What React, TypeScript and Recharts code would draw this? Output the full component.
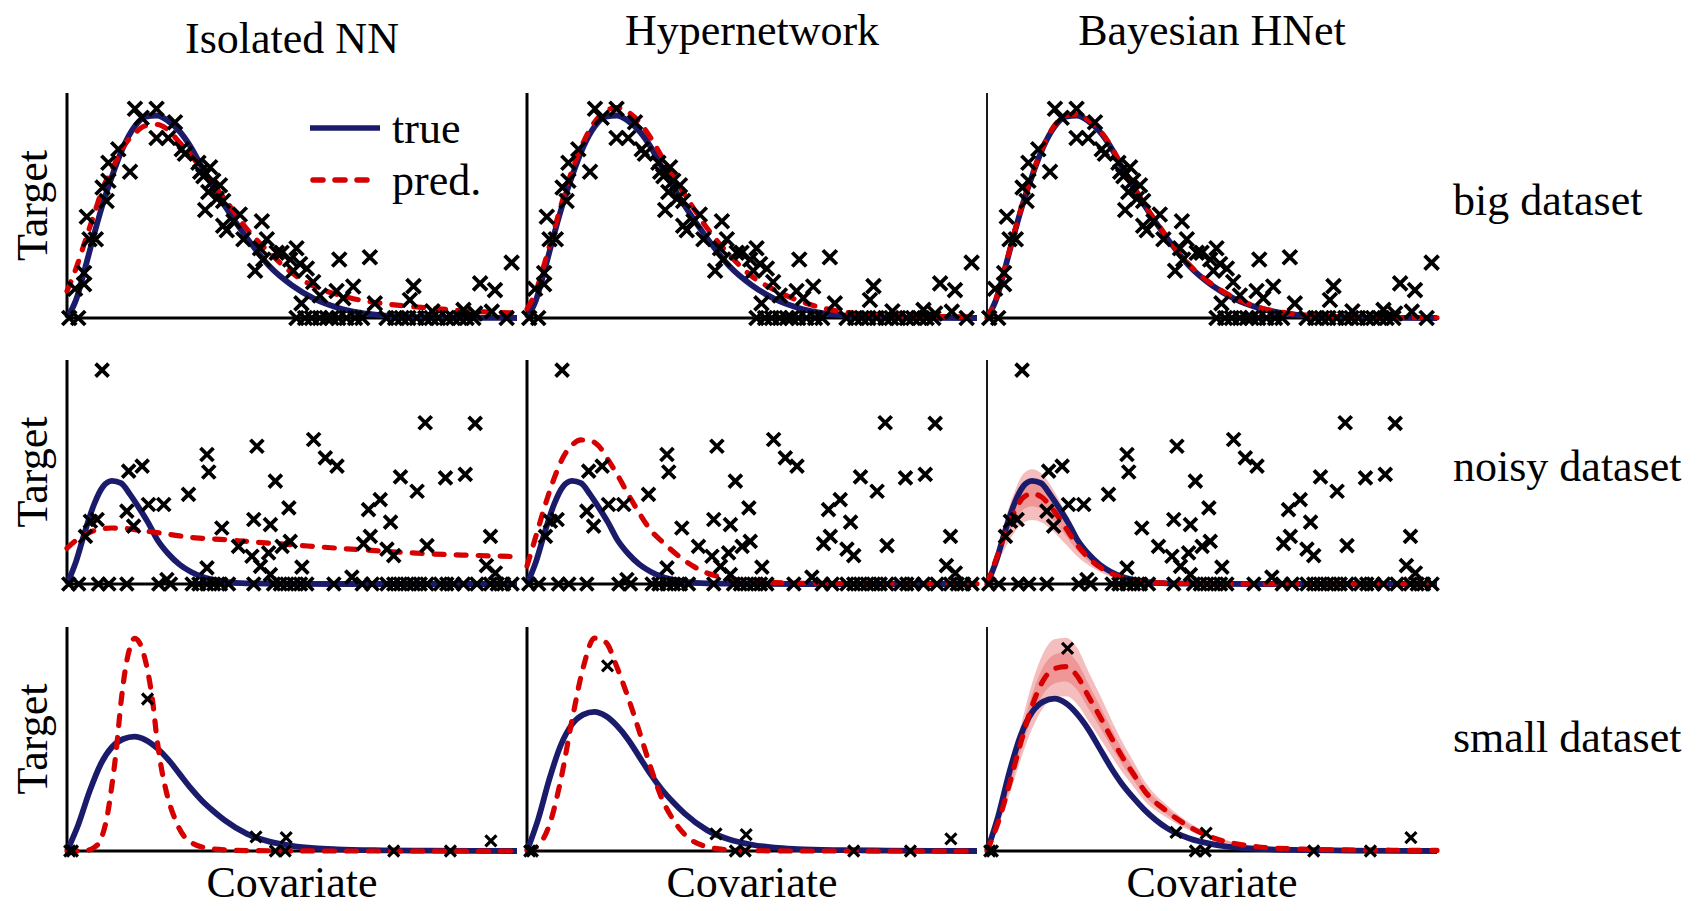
import React from 'react';
import { ComposedChart, Line, Scatter, Area, XAxis, YAxis, Legend, ReferenceLine } from 'recharts';

const NAVY = '#1b1b6b';
const RED = '#d60000';
const FONT = '"Liberation Serif", serif';
const FS = 44;

const columnTitles = ['Isolated NN', 'Hypernetwork', 'Bayesian HNet'];
const rowLabels = ['big dataset', 'noisy dataset', 'small dataset'];
const yLabel = 'Target';
const xLabel = 'Covariate';
const legendLabels = ['true', 'pred.'];

// ---------- row 1: big dataset ----------
const bigX = [0, 0.2, 0.4, 0.6, 0.8, 1.0, 1.25, 1.5, 1.75, 2.0, 2.25, 2.5, 2.75, 3.0, 3.5, 4.0, 4.5, 5.0, 5.5, 6.0, 6.5, 7.0, 8.0, 9.0, 10.0];
const bigTrue = [0, 0.08, 0.22, 0.37, 0.51, 0.63, 0.76, 0.85, 0.895, 0.9, 0.875, 0.83, 0.76, 0.67, 0.5, 0.355, 0.23, 0.145, 0.085, 0.047, 0.024, 0.012, 0.003, 0.001, 0];
const bigPredIso = [0.12, 0.22, 0.34, 0.46, 0.58, 0.66, 0.76, 0.82, 0.855, 0.86, 0.835, 0.78, 0.725, 0.66, 0.53, 0.395, 0.29, 0.2, 0.14, 0.105, 0.08, 0.065, 0.045, 0.03, 0.022];
const bigPredHyper = [0.04, 0.12, 0.25, 0.39, 0.53, 0.655, 0.78, 0.87, 0.92, 0.935, 0.915, 0.87, 0.8, 0.715, 0.55, 0.4, 0.28, 0.185, 0.125, 0.08, 0.048, 0.028, 0.012, 0.007, 0.005];
const bigPredBayes = [0, 0.085, 0.225, 0.375, 0.515, 0.635, 0.765, 0.855, 0.9, 0.905, 0.88, 0.835, 0.765, 0.675, 0.505, 0.36, 0.235, 0.15, 0.09, 0.05, 0.027, 0.014, 0.004, 0.002, 0.001];

const bigPtsX = [0.18, 0.38, 0.38, 0.44, 0.5, 0.64, 0.88, 0.79, 0.92, 0.92, 1.14, 1.4, 1.51, 1.66, 1.99, 1.99, 2.25, 2.4, 2.55, 2.62, 2.92, 2.96, 3.18, 3.03, 3.25, 3.4, 3.14, 3.33, 3.47, 3.07, 3.47, 3.55, 3.84, 3.7, 3.92, 4.33, 4.18, 4.29, 4.44, 4.36, 4.66, 4.77, 4.96, 5.03, 5.1, 5.18, 5.33, 5.47, 5.62, 5.21, 5.99, 6.05, 6.14, 6.36, 6.73, 6.84, 7.62, 7.7, 8.12, 8.81, 9.07, 9.18, 9.44, 9.51, 9.88,
  0.05, 0.25, 5.1, 5.29, 5.44, 5.62, 5.77, 5.88, 6.03, 6.21, 6.4, 6.56, 7.1, 7.29, 7.44, 7.59, 7.77, 7.96, 8.1, 8.25, 8.44, 8.58, 8.73, 8.88, 9.03, 9.77];
const bigPtsY = [0.13, 0.15, 0.2, 0.45, 0.35, 0.35, 0.52, 0.58, 0.61, 0.69, 0.75, 0.65, 0.93, 0.89, 0.8, 0.93, 0.8, 0.87, 0.75, 0.73, 0.69, 0.65, 0.67, 0.63, 0.61, 0.59, 0.56, 0.53, 0.52, 0.48, 0.41, 0.39, 0.46, 0.43, 0.35, 0.43, 0.21, 0.31, 0.35, 0.26, 0.29, 0.29, 0.26, 0.21, 0.31, 0.24, 0.22, 0.16, 0.1, 0.065, 0.12, 0.26, 0.088, 0.14, 0.27, 0.065, 0.08, 0.142, 0.03, 0.036, 0.02, 0.154, 0.028, 0.124, 0.246,
  0, 0, 0, 0, 0, 0, 0, 0, 0, 0, 0, 0, 0, 0, 0, 0, 0, 0, 0, 0, 0, 0, 0, 0, 0, 0];

// ---------- row 2: noisy dataset ----------
const noisyX = [0, 0.2, 0.4, 0.6, 0.8, 1.0, 1.2, 1.4, 1.6, 1.8, 2.0, 2.25, 2.5, 2.75, 3.0, 3.5, 4.0, 5.0, 6.0, 7.0, 8.0, 9.0, 10.0];
const noisyTrue = [0, 0.1, 0.235, 0.355, 0.435, 0.46, 0.45, 0.4, 0.34, 0.275, 0.2, 0.135, 0.087, 0.055, 0.033, 0.011, 0.003, 0.001, 0, 0, 0, 0, 0];
const noisyPredIso = [0.16, 0.195, 0.22, 0.238, 0.247, 0.25, 0.249, 0.246, 0.24, 0.235, 0.23, 0.222, 0.215, 0.208, 0.204, 0.198, 0.19, 0.175, 0.16, 0.147, 0.135, 0.128, 0.122];
const noisyPredHyper = [0.08, 0.215, 0.35, 0.47, 0.565, 0.62, 0.643, 0.64, 0.615, 0.555, 0.49, 0.4, 0.315, 0.24, 0.19, 0.105, 0.049, 0.012, 0.004, 0.002, 0.001, 0.001, 0.001];
const noisyPredBayes = [0, 0.11, 0.225, 0.32, 0.385, 0.403, 0.39, 0.35, 0.295, 0.235, 0.175, 0.118, 0.076, 0.048, 0.029, 0.01, 0.004, 0.001, 0, 0, 0, 0, 0];
const noisyOuterHi = [0, 0.14, 0.285, 0.405, 0.49, 0.512, 0.495, 0.445, 0.375, 0.3, 0.222, 0.152, 0.098, 0.06, 0.037, 0.013, 0.005, 0.001, 0, 0, 0, 0, 0];
const noisyOuterLo = [0, 0.078, 0.16, 0.227, 0.273, 0.286, 0.277, 0.249, 0.209, 0.167, 0.124, 0.085, 0.055, 0.033, 0.021, 0.007, 0.003, 0.001, 0, 0, 0, 0, 0];
const noisyInnerHi = [0, 0.125, 0.257, 0.365, 0.44, 0.46, 0.445, 0.4, 0.336, 0.268, 0.2, 0.137, 0.088, 0.054, 0.033, 0.011, 0.0045, 0.001, 0, 0, 0, 0, 0];
const noisyInnerLo = [0, 0.095, 0.194, 0.275, 0.331, 0.347, 0.335, 0.301, 0.254, 0.202, 0.15, 0.103, 0.066, 0.04, 0.025, 0.009, 0.0034, 0.001, 0, 0, 0, 0, 0];

const noisyPtsX = [0.78, 1.37, 1.67, 1.33, 1.48, 1.81, 2.15, 0.67, 0.52, 0.41, 2.7, 3.11, 3.15, 3.44, 3.81, 3.11, 4.15, 4.22, 4.52, 4.63, 4.11, 4.3, 4.48, 4.78, 4.96, 4.93, 4.52, 5.22, 5.48, 5.74, 6.0, 6.33, 6.59, 6.74, 6.7, 6.96, 7.19, 7.11, 7.26, 7.41, 7.78, 8.0, 7.96, 8.41, 8.85, 9.07, 9.41, 9.32, 9.52, 2.22,
  0.04, 0.26, 0.7, 0.93, 1.33, 2.04, 2.3, 2.78, 2.93, 3.11, 3.26, 3.41, 3.59, 4.15, 4.59, 4.74, 4.89, 5.04, 5.19, 5.33, 5.93, 6.56, 6.78, 7.11, 7.26, 7.41, 7.56, 7.7, 7.85, 8.0, 8.3, 8.44, 8.59, 8.81, 9.11, 9.41, 9.56, 9.7, 9.89];
const noisyPtsY = [0.955, 0.504, 0.526, 0.325, 0.258, 0.355, 0.355, 0.288, 0.28, 0.213, 0.4, 0.578, 0.5, 0.25, 0.168, 0.072, 0.288, 0.615, 0.265, 0.459, 0.124, 0.079, 0.139, 0.168, 0.19, 0.34, 0.042, 0.075, 0.645, 0.563, 0.526, 0.031, 0.18, 0.213, 0.332, 0.377, 0.276, 0.156, 0.127, 0.478, 0.414, 0.171, 0.72, 0.474, 0.489, 0.717, 0.213, 0.082, 0.049, 0.02,
  0, 0, 0, 0, 0, 0, 0, 0, 0, 0, 0, 0, 0, 0, 0, 0, 0, 0, 0, 0, 0, 0, 0, 0, 0, 0, 0, 0, 0, 0, 0, 0, 0, 0, 0, 0, 0, 0, 0];

// ---------- row 3: small dataset ----------
const smallX = [0, 0.25, 0.5, 0.75, 1.0, 1.25, 1.5, 1.75, 2.0, 2.25, 2.5, 2.75, 3.0, 3.25, 3.5, 4.0, 4.5, 5.0, 5.5, 6.0, 7.0, 8.0, 9.0, 10.0];
const smallTrue = [0, 0.23, 0.52, 0.76, 0.91, 0.98, 1.0, 0.97, 0.9, 0.8, 0.675, 0.55, 0.44, 0.35, 0.27, 0.15, 0.082, 0.045, 0.024, 0.014, 0.006, 0.003, 0.001, 0];
const smallIsoX = [0, 0.4, 0.6, 0.75, 0.9, 1.0, 1.1, 1.2, 1.3, 1.4, 1.5, 1.6, 1.7, 1.8, 1.9, 2.0, 2.1, 2.2, 2.4, 2.6, 2.8, 3.0, 3.5, 4.0, 5.0, 6.0, 8.0, 10.0];
const smallPredIso = [0, 0.003, 0.03, 0.1, 0.32, 0.58, 0.9, 1.3, 1.6, 1.78, 1.86, 1.83, 1.73, 1.56, 1.32, 0.98, 0.72, 0.53, 0.28, 0.13, 0.065, 0.035, 0.01, 0.004, 0.001, 0, 0, 0];
const smallPredHyper = [0, 0.04, 0.19, 0.51, 0.94, 1.32, 1.53, 1.5, 1.32, 1.1, 0.855, 0.6, 0.375, 0.225, 0.12, 0.03, 0.008, 0.003, 0.001, 0, 0, 0, 0, 0];
const smallPredBayes = [0, 0.19, 0.44, 0.71, 0.95, 1.12, 1.197, 1.21, 1.15, 1.017, 0.887, 0.75, 0.62, 0.507, 0.395, 0.26, 0.159, 0.089, 0.049, 0.028, 0.012, 0.007, 0.005, 0.004];
const smallOuterHi = [0, 0.22, 0.51, 0.82, 1.1, 1.3, 1.39, 1.4, 1.335, 1.18, 1.03, 0.87, 0.72, 0.59, 0.46, 0.3, 0.185, 0.103, 0.057, 0.032, 0.014, 0.008, 0.006, 0.005];
const smallOuterLo = [0, 0.16, 0.37, 0.6, 0.8, 0.94, 1.005, 1.015, 0.965, 0.855, 0.745, 0.63, 0.52, 0.425, 0.33, 0.218, 0.134, 0.075, 0.041, 0.024, 0.01, 0.006, 0.004, 0.003];
const smallInnerHi = [0, 0.205, 0.475, 0.765, 1.025, 1.21, 1.29, 1.305, 1.24, 1.1, 0.958, 0.81, 0.67, 0.548, 0.427, 0.281, 0.172, 0.096, 0.053, 0.03, 0.013, 0.0076, 0.0054, 0.0043];
const smallInnerLo = [0, 0.175, 0.405, 0.655, 0.875, 1.03, 1.1, 1.113, 1.058, 0.936, 0.816, 0.69, 0.57, 0.466, 0.363, 0.239, 0.146, 0.082, 0.045, 0.026, 0.011, 0.0064, 0.0046, 0.0037];
const smallPtsX = [0.06, 0.12, 1.79, 4.2, 4.63, 4.85, 4.87, 7.26, 8.52, 9.42];
const smallPtsY = [0, 0, 1.33, 0.123, 0, 0, 0.118, 0, 0, 0.088];

// y-axis upper limits per panel (row, column)
const yMaxes = [[1, 1, 1], [1, 1, 1], [1.96, 1.61, 1.47]];

// ---------- layout ----------
const COL_LEFT = [67, 527, 987];
const ROW_TOP = [93, 360, 627];
const PW = 450;
const PH = [225, 224, 224];
const M = 16;

const series = (xs: number[], ys: number[]) => xs.map((x, i) => ({ x, y: ys[i] }));
const band = (xs: number[], lo: number[], hi: number[]) => xs.map((x, i) => ({ x, r: [lo[i], hi[i]] }));

type PanelSpec = {
  trueData: { x: number; y: number }[];
  predData: { x: number; y: number }[];
  points: { x: number; y: number }[];
  outer?: { x: number; r: number[] }[];
  inner?: { x: number; r: number[] }[];
  mark: number;
};

const bigPoints = series(bigPtsX, bigPtsY);
const noisyPoints = series(noisyPtsX, noisyPtsY);
const smallPoints = series(smallPtsX, smallPtsY);

const panels: PanelSpec[][] = [
  [
    { trueData: series(bigX, bigTrue), predData: series(bigX, bigPredIso), points: bigPoints, mark: 7 },
    { trueData: series(bigX, bigTrue), predData: series(bigX, bigPredHyper), points: bigPoints, mark: 7 },
    { trueData: series(bigX, bigTrue), predData: series(bigX, bigPredBayes), points: bigPoints, mark: 7 },
  ],
  [
    { trueData: series(noisyX, noisyTrue), predData: series(noisyX, noisyPredIso), points: noisyPoints, mark: 6.5 },
    { trueData: series(noisyX, noisyTrue), predData: series(noisyX, noisyPredHyper), points: noisyPoints, mark: 6.5 },
    {
      trueData: series(noisyX, noisyTrue), predData: series(noisyX, noisyPredBayes), points: noisyPoints, mark: 6.5,
      outer: band(noisyX, noisyOuterLo, noisyOuterHi), inner: band(noisyX, noisyInnerLo, noisyInnerHi),
    },
  ],
  [
    { trueData: series(smallX, smallTrue), predData: series(smallIsoX, smallPredIso), points: smallPoints, mark: 5.5 },
    { trueData: series(smallX, smallTrue), predData: series(smallX, smallPredHyper), points: smallPoints, mark: 5.5 },
    {
      trueData: series(smallX, smallTrue), predData: series(smallX, smallPredBayes), points: smallPoints, mark: 5.5,
      outer: band(smallX, smallOuterLo, smallOuterHi), inner: band(smallX, smallInnerLo, smallInnerHi),
    },
  ],
];

const makeCross = (s: number, w: number) => (p: any) => {
  const { cx, cy } = p;
  if (cx == null || cy == null) return <g />;
  return (
    <path
      d={`M${cx - s},${cy - s}L${cx + s},${cy + s}M${cx - s},${cy + s}L${cx + s},${cy - s}`}
      stroke="#000"
      strokeWidth={w}
      fill="none"
    />
  );
};

const LegendBox = () => (
  <svg width={190} height={110} style={{ overflow: 'visible' }}>
    <line x1={2} y1={20} x2={72} y2={20} stroke={NAVY} strokeWidth={5.5} />
    <text x={84} y={20} dominantBaseline="central" fontFamily={FONT} fontSize={FS} fill="#000">{legendLabels[0]}</text>
    <line x1={5} y1={72} x2={69} y2={72} stroke={RED} strokeWidth={5.5} strokeDasharray="10 12" strokeLinecap="round" />
    <text x={84} y={72} dominantBaseline="central" fontFamily={FONT} fontSize={FS} fill="#000">{legendLabels[1]}</text>
  </svg>
);

function Panel({ r, c }: { r: number; c: number }) {
  const spec = panels[r][c];
  const h = PH[r];
  const left = COL_LEFT[c];
  const top = ROW_TOP[r];
  const yAxisW = c === 2 ? 1.8 : 3;
  return (
    <div style={{ position: 'absolute', left: left - M, top: top - M }}>
      <ComposedChart width={PW + 2 * M} height={h + 2 * M} margin={{ top: M, right: M, bottom: M, left: M }}>
        <XAxis type="number" dataKey="x" domain={[0, 10]} hide />
        <YAxis type="number" domain={[0, yMaxes[r][c]]} hide />
        {spec.outer && (
          <Area data={spec.outer} dataKey="r" type="monotone" stroke="none" fill="#e23a3a" fillOpacity={0.33}
            isAnimationActive={false} dot={false} activeDot={false} />
        )}
        {spec.inner && (
          <Area data={spec.inner} dataKey="r" type="monotone" stroke="none" fill="#e23a3a" fillOpacity={0.3}
            isAnimationActive={false} dot={false} activeDot={false} />
        )}
        <ReferenceLine x={0} stroke="#000" strokeWidth={yAxisW} />
        <ReferenceLine y={0} stroke="#000" strokeWidth={3} />
        <Line data={spec.trueData} dataKey="y" type="monotone" stroke={NAVY} strokeWidth={5.8} dot={false}
          activeDot={false} isAnimationActive={false} strokeLinejoin="round" />
        <Line data={spec.predData} dataKey="y" type="monotone" stroke={RED} strokeWidth={5.2} dot={false}
          activeDot={false} isAnimationActive={false} strokeDasharray="10 12" strokeLinecap="round" />
        <Scatter data={spec.points} dataKey="y" shape={makeCross(spec.mark, r === 2 ? 3.2 : 3.8)} isAnimationActive={false} />
        {r === 0 && c === 0 && (
          <Legend layout="horizontal" verticalAlign="middle" align="center" content={() => <LegendBox />}
            wrapperStyle={{ left: 257, top: 31, width: 190, height: 110 }} />
        )}
      </ComposedChart>
    </div>
  );
}

const titleBaselines = [53, 45, 45];
const rowBaselines = [215, 481, 752];
const rowCenters = [205.5, 472, 739];

export default function App() {
  return (
    <div style={{ position: 'fixed', left: 0, top: 0, width: 1703, height: 911, background: '#fff', overflow: 'hidden' }}>
      {[0, 1, 2].map((r) => [0, 1, 2].map((c) => <Panel key={`${r}-${c}`} r={r} c={c} />))}
      <svg width={1703} height={911} style={{ position: 'absolute', left: 0, top: 0, pointerEvents: 'none' }}>
        {columnTitles.map((t, c) => (
          <text key={t} x={COL_LEFT[c] + PW / 2} y={titleBaselines[c]} textAnchor="middle" fontFamily={FONT} fontSize={FS} fill="#000">{t}</text>
        ))}
        {rowLabels.map((t, r) => (
          <text key={t} x={1453} y={rowBaselines[r]} fontFamily={FONT} fontSize={FS} fill="#000">{t}</text>
        ))}
        {rowCenters.map((cy, r) => (
          <text key={`yl${r}`} x={0} y={0} transform={`translate(47, ${cy}) rotate(-90)`} textAnchor="middle"
            fontFamily={FONT} fontSize={FS} fill="#000">{yLabel}</text>
        ))}
        {COL_LEFT.map((l, c) => (
          <text key={`xl${c}`} x={l + PW / 2} y={897} textAnchor="middle" fontFamily={FONT} fontSize={FS} fill="#000">{xLabel}</text>
        ))}
      </svg>
    </div>
  );
}
